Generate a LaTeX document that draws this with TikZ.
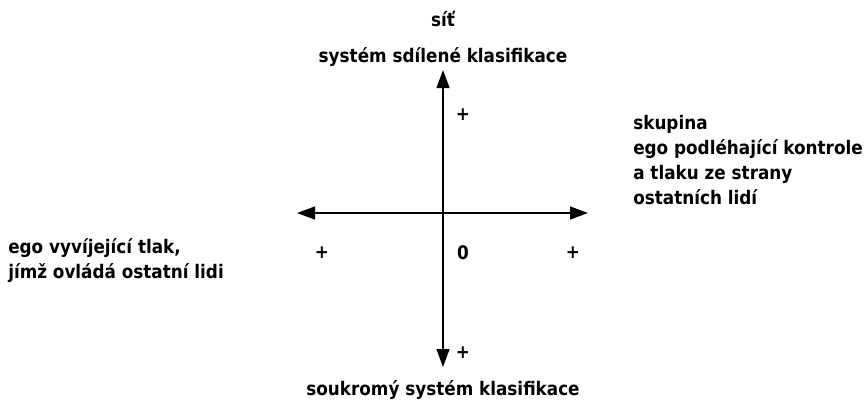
\documentclass[tikz,border=0pt]{standalone}
\usepackage{fontspec}
\setmainfont{DejaVu Sans Condensed}
\usetikzlibrary{arrows.meta, positioning}

\begin{document}
\begin{tikzpicture}[
    x=0.025cm, y=-0.025cm,
    lbl/.style={font=\bfseries\fontsize{13.3}{17.8}\selectfont, inner sep=0pt, align=left},
    sgn/.style={font=\bfseries\fontsize{13.3}{14}\selectfont, inner sep=0pt},
    axis/.style={{Triangle[length=4.5mm, width=3.2mm]}-{Triangle[length=4.5mm, width=3.2mm]}, line width=1.4pt}
]
\useasboundingbox (0,0) rectangle (866,402);

\coordinate (up) at (443,70);
\coordinate (down) at (443,367);
\coordinate (lt) at (297,213);
\coordinate (rt) at (588,213);

\node[lbl] (shared) at (443,57) {systém sdílené klasifikace};
\node[lbl, above=0.9cm of shared.base, anchor=base] (net) {síť};
\node[lbl] (private) at (443,390) {soukromý systém klasifikace};
\node[lbl, anchor=west] (group) at (633,160) {skupina\\ego podléhající kontrole\\a tlaku ze strany\\ostatních lidí};
\node[lbl, anchor=west] (ego) at (8,261) {ego vyvíjející tlak,\\jímž ovládá ostatní lidi};

\node[sgn] (pup) at (463,115) {+};
\node[sgn] (plt) at (322,253) {+};
\node[sgn] (prt) at (573,253) {+};
\node[sgn] (pdn) at (463,353) {+};
\node[sgn] (zero) at (463,253) {0};

\draw[axis] (down) -- (up);
\draw[axis] (lt) -- (rt);

\end{tikzpicture}
\end{document}
